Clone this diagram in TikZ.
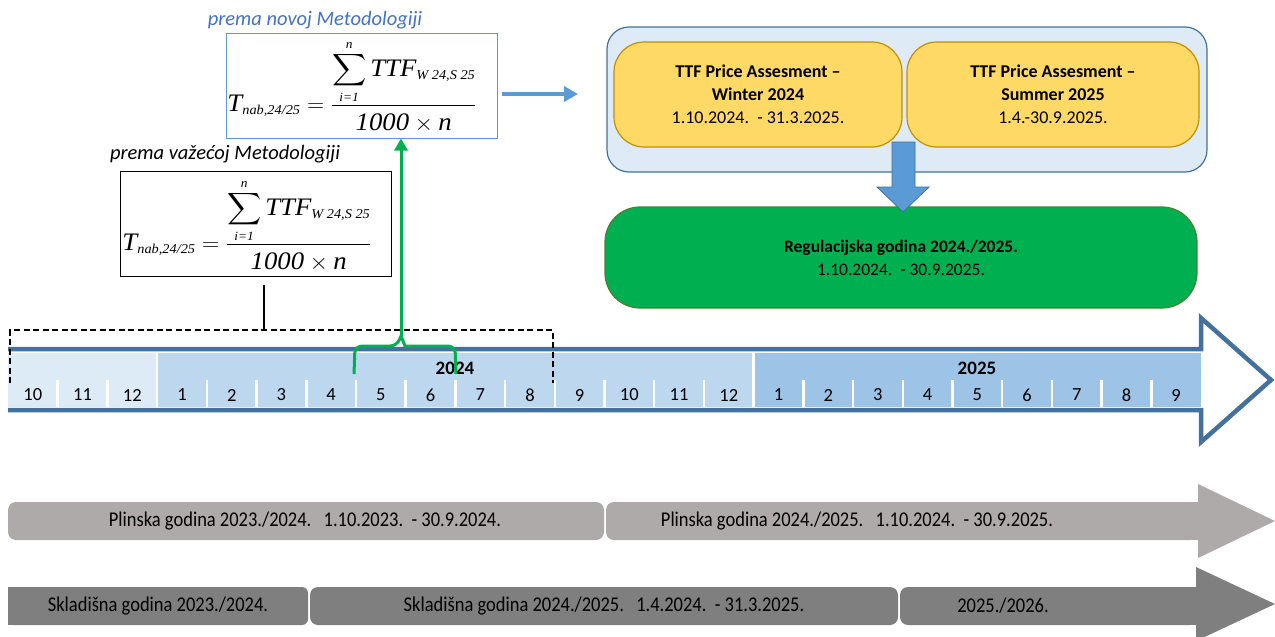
\documentclass[tikz,border=0pt]{standalone}
\usepackage{amsmath}
\usepackage{fontspec}
\setmainfont{Carlito}
\newfontfamily\lsfam{Liberation Serif}
\usetikzlibrary{arrows.meta,calc}
\definecolor{tlblue}{HTML}{41719C}
\definecolor{cA}{HTML}{DDEBF7}
\definecolor{cB}{HTML}{BDD7EE}
\definecolor{cC}{HTML}{9DC3E6}
\definecolor{lblue}{HTML}{5B9BD5}
\definecolor{tblue}{HTML}{4472C4}
\definecolor{outerfill}{HTML}{DEEBF7}
\definecolor{yfill}{HTML}{FFD966}
\definecolor{ydraw}{HTML}{BF9000}
\definecolor{gfill}{HTML}{00B050}
\definecolor{gdraw}{HTML}{507E32}
\definecolor{grA}{HTML}{AEAAAA}
\definecolor{grB}{HTML}{7F7F7F}
\newcommand{\tmiA}[1]{\text{\fontsize{28}{30}\selectfont\lsfam\itshape #1}}
\newcommand{\tmiS}[1]{\text{\fontsize{15}{16}\selectfont\lsfam\itshape #1}}
\newcommand{\tmiL}[1]{\text{\fontsize{14}{15}\selectfont\lsfam\itshape #1}}
\newcommand{\ttfformula}{\resizebox*{249pt}{92pt}{\fontsize{28}{30}\selectfont$\displaystyle \tmiA{T}_{\tmiS{nab,24/25}}={\textstyle\frac{\displaystyle\sum\limits_{\tmiL{i=1}}^{\tmiL{n}}\tmiA{TTF}_{\tmiS{W 24,S 25}}}{\displaystyle\rule{0pt}{26pt}\tmiA{1000}\times\tmiA{n}}}$}}
\begin{document}
\begin{tikzpicture}[x=1pt,y=-1pt,
  fbox/.style={draw,line width=1pt,minimum width=271pt,minimum height=105pt,inner sep=0pt},
  ttl/.style={font=\fontsize{20.5}{22}\selectfont\itshape,inner sep=0pt},
  ybox/.style={draw=ydraw,fill=yfill,line width=1.2pt,rounded corners=30pt,minimum height=105pt,align=center,font=\fontsize{18}{23}\selectfont},
  mlab/.style={font=\fontsize{18.5}{20}\selectfont,inner sep=0pt},
  ylab/.style={font=\fontsize{19}{20}\selectfont\bfseries,inner sep=0pt},
  rowtxt/.style={font=\fontsize{21}{22}\selectfont,inner sep=0pt,xscale=0.88},
  barrow/.style={draw=lblue,line width=4pt,-{Triangle[length=14pt,width=15pt]}},
  garrow/.style={draw=gfill,line width=3pt,-{Triangle[length=12pt,width=13pt]}}
]
\useasboundingbox (0,0) rectangle (1275,637);
\fill[white] (0,0) rectangle (1275,637);

% ---------- formula boxes ----------
\node[ttl,text=tblue] (tnew) at (315,20) {prema novoj Metodologiji};
\node[fbox,draw=lblue] (newf) at (361.5,85.5) {};
\node[inner sep=0pt] (newformula) at (352,86) {\ttfformula};

\node[ttl] (told) at (225,154) {prema važećoj Metodologiji};
\node[fbox,draw=black] (oldf) at (255.5,224) {};
\node[inner sep=0pt] (oldformula) at (247,225) {\ttfformula};

% ---------- right group ----------
\node[draw=tlblue,fill=outerfill,line width=1.2pt,rounded corners=22pt,minimum width=600pt,minimum height=145pt] (outer) at (907,99.5) {};
\node[ybox,minimum width=288pt] (winter) at (758,94.5) {\textbf{TTF Price Assesment –}\\\textbf{Winter 2024}\\1.10.2024.\ \ - 31.3.2025.};
\node[ybox,minimum width=292pt] (summer) at (1053,94.5) {\textbf{TTF Price Assesment –}\\\textbf{Summer 2025}\\1.4.-30.9.2025.};
\node[draw=gdraw,fill=gfill,line width=1.2pt,rounded corners=35pt,minimum width=592pt,minimum height=101pt,align=center,font=\fontsize{17.5}{23}\selectfont] (reg) at (901,257.5) {\textbf{Regulacijska godina 2024./2025.}\\1.10.2024.\ \ - 30.9.2025.};
\draw[draw=tlblue,fill=lblue,line width=0.8pt] (892,142) -- (915,142) -- (915,187) -- (929,187) -- (903,212) -- (877,187) -- (892,187) -- cycle;

\coordinate (ba1) at (502,94);
\coordinate (ba2) at (578,94);
\draw[barrow] (ba1) -- (ba2);

% ---------- timeline ----------
\pgfmathsetmacro{\mw}{1193/24}
\fill[cA] (8,353) rectangle (157,407);
\fill[cB] (157,353) rectangle (753,407);
\fill[cC] (753,353) rectangle (1201,407);
\foreach \k in {1,...,23}{
  \draw[white,line width=2.5pt] ({8+\k*\mw},380) -- ({8+\k*\mw},407);
}
\draw[white,line width=2.5pt] ({8+3*\mw},353) -- ({8+3*\mw},407);
\draw[white,line width=2.5pt] ({8+15*\mw},353) -- ({8+15*\mw},407);
\draw[tlblue,line width=4.5pt,line join=miter] (8,349) -- (1201,349) -- (1201,318) -- (1271,380) -- (1201,442) -- (1201,410) -- (8,410);
\foreach \lab [count=\i from 0] in {10,11,12,1,2,3,4,5,6,7,8,9,10,11,12,1,2,3,4,5,6,7,8,9}{
  \node[mlab] (m\i) at ({8+(\i+0.5)*\mw},395) {\lab};
}
\node[ylab] (y24) at (455,368) {2024};
\node[ylab] (y25) at (977,368) {2025};

% dashed bracket and tick
\coordinate (dtick) at (264,330);
\coordinate (otick) at (264,285);
\draw[black,line width=1.6pt,dash pattern=on 6pt off 3.5pt] (10,383) -- (10,330) -- (553,330) -- (553,383);
\draw[black,line width=1.6pt] (otick) -- (dtick);

% green brace and arrow
\coordinate (btip) at (401,336);
\draw[gfill,line width=3pt,rounded corners=7pt] (354,374) -- (355,346) -- (397,346) [sharp corners] -- (btip) -- (405,346) [rounded corners=7pt] -- (455,346) -- (456,374);
\draw[garrow] (btip) -- (btip |- newf.south);

% ---------- bottom rows ----------
\fill[grA,rounded corners=8pt] (8,502) rectangle (604,540);
\fill[grA,rounded corners=8pt] (606,502) rectangle (1198,540);
\fill[grA] (1100,502) rectangle (1198,540);
\fill[grA] (1198,484) -- (1275,521) -- (1198,558) -- cycle;
\node[rowtxt] (p1) at (305,521) {Plinska godina 2023./2024.\hspace{14pt}1.10.2023.\ \ - 30.9.2024.};
\node[rowtxt] (p2) at (857,521) {Plinska godina 2024./2025.\hspace{14pt}1.10.2024.\ \ - 30.9.2025.};

\fill[grB,rounded corners=6pt] (8,587) rectangle (308,625);
\fill[grB] (8,587) rectangle (30,625);
\fill[grB,rounded corners=8pt] (310,587) rectangle (898,625);
\fill[grB,rounded corners=8pt] (900,587) rectangle (1198,625);
\fill[grB] (1100,587) rectangle (1198,625);
\fill[grB] (1196,567) -- (1275,604) -- (1196,641) -- cycle;
\node[rowtxt] (s1) at (158,606) {Skladišna godina 2023./2024.};
\node[rowtxt] (s2) at (604,606) {Skladišna godina 2024./2025.\hspace{14pt}1.4.2024.\ \ - 31.3.2025.};
\node[rowtxt] (s3) at (1003,606) {2025./2026.};
\end{tikzpicture}
\end{document}
